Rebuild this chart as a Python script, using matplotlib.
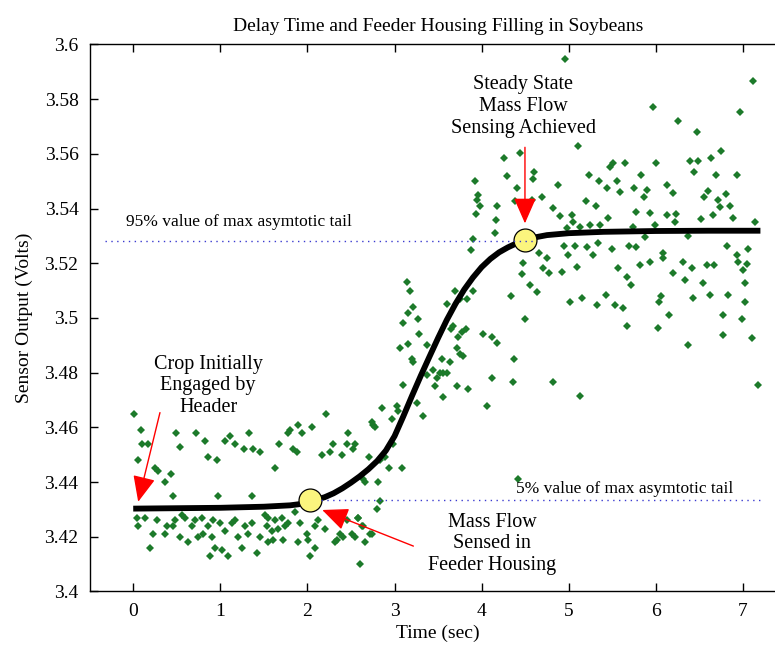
import matplotlib
matplotlib.use("Agg")
import matplotlib.pyplot as plt

plt.rcParams['font.family'] = ['Liberation Serif', 'DejaVu Serif']

# ---------------- data ----------------
title = "Delay Time and Feeder Housing Filling in Soybeans"
xlabel = "Time (sec)"
ylabel = "Sensor Output (Volts)"
x_ticks = [0, 1, 2, 3, 4, 5, 6, 7]
y_ticks = [3.4, 3.42, 3.44, 3.46, 3.48, 3.5, 3.52, 3.54, 3.56, 3.58, 3.6]
y_ticklabels = ["3.4", "3.42", "3.44", "3.46", "3.48", "3.5", "3.52", "3.54", "3.56", "3.58", "3.6"]

# measured sensor points (time s, volts)
pts_early = [
    (0.011, 3.465), (0.084, 3.459), (0.096, 3.454), (0.172, 3.454), (0.057, 3.448), (0.249, 3.445),
    (0.287, 3.444), (0.364, 3.440), (0.432, 3.443), (0.452, 3.435), (0.486, 3.458), (0.536, 3.453),
    (0.719, 3.458), (0.823, 3.455), (0.861, 3.449), (0.957, 3.448), (0.968, 3.435), (1.052, 3.455),
    (1.11, 3.457), (1.167, 3.454), (1.274, 3.452), (1.328, 3.458), (1.37, 3.452), (1.454, 3.451),
    (1.359, 3.435),
    (0.038, 3.427), (0.05, 3.424), (0.134, 3.427), (0.191, 3.416), (0.23, 3.421), (0.268, 3.426),
    (0.364, 3.421), (0.383, 3.424), (0.459, 3.424), (0.478, 3.426), (0.536, 3.420), (0.555, 3.428),
    (0.593, 3.427), (0.631, 3.418), (0.67, 3.424), (0.708, 3.426), (0.746, 3.420), (0.785, 3.427),
    (0.804, 3.421), (0.861, 3.424), (0.899, 3.420), (0.918, 3.426), (0.88, 3.413), (0.938, 3.416),
    (0.995, 3.425), (1.014, 3.415), (1.052, 3.422), (1.091, 3.413), (1.129, 3.425), (1.167, 3.426),
    (1.206, 3.420), (1.244, 3.416), (1.282, 3.424), (1.32, 3.421), (1.359, 3.425), (1.416, 3.414),
    (1.454, 3.420), (1.512, 3.428), (1.531, 3.424),
]
pts_mid = [
    (2.212, 3.465), (2.859, 3.467), (3.024, 3.468), (3.035, 3.466), (3.253, 3.469), (3.33, 3.464),
    (2.966, 3.463), (2.737, 3.462), (2.775, 3.460), (2.756, 3.461), (1.799, 3.459), (1.887, 3.461),
    (1.772, 3.458), (1.933, 3.458), (2.048, 3.460), (1.673, 3.454), (1.837, 3.452), (1.876, 3.451),
    (2.17, 3.450), (2.258, 3.451), (2.296, 3.454), (2.392, 3.450), (2.469, 3.458), (2.449, 3.454),
    (2.545, 3.454), (2.526, 3.452), (2.706, 3.449), (2.832, 3.448), (2.89, 3.449), (2.936, 3.445),
    (3.081, 3.445), (1.627, 3.445), (2.641, 3.441), (2.66, 3.440), (2.813, 3.440), (2.985, 3.454),
    (2.832, 3.433), (2.794, 3.430), (2.583, 3.427), (2.633, 3.424),
    (1.551, 3.427), (1.627, 3.426), (1.703, 3.427), (1.589, 3.422), (1.665, 3.423), (1.742, 3.424),
    (1.78, 3.425), (1.857, 3.429), (1.914, 3.425), (1.608, 3.419), (1.722, 3.419), (1.551, 3.418),
    (1.895, 3.418), (1.991, 3.421), (2.01, 3.419), (2.086, 3.424), (2.124, 3.426), (2.201, 3.423),
    (2.086, 3.416), (2.029, 3.413), (2.316, 3.418), (2.335, 3.419), (2.373, 3.421), (2.411, 3.420),
    (2.449, 3.426), (2.507, 3.421), (2.545, 3.420), (2.583, 3.427), (2.603, 3.410), (2.66, 3.418),
    (2.718, 3.421), (2.622, 3.424), (2.737, 3.421),
]
pts_rise = [
    (3.924, 3.550), (3.962, 3.545), (3.943, 3.543), (3.981, 3.541), (3.935, 3.538), (4.181, 3.541),
    (4.165, 3.536), (4.154, 3.531), (3.897, 3.529), (3.878, 3.525), (3.139, 3.513), (3.177, 3.510),
    (3.215, 3.504), (3.158, 3.502), (3.1, 3.498), (3.273, 3.4995), (3.284, 3.494), (3.158, 3.4905),
    (3.062, 3.489), (3.196, 3.485), (3.215, 3.484), (3.368, 3.490), (3.445, 3.481), (3.483, 3.478),
    (3.521, 3.480), (3.56, 3.480), (3.606, 3.480), (3.54, 3.485), (3.636, 3.484), (3.713, 3.489),
    (3.751, 3.487), (3.789, 3.486), (3.732, 3.493), (3.77, 3.495), (3.82, 3.496), (3.674, 3.497),
    (3.644, 3.496), (3.606, 3.505), (3.693, 3.510), (3.751, 3.507), (3.828, 3.507), (3.905, 3.510),
    (4.02, 3.494), (4.115, 3.493), (4.181, 3.491), (3.1, 3.4755), (3.464, 3.475), (3.368, 3.479),
    (3.713, 3.475), (3.847, 3.474), (4.115, 3.478), (3.56, 3.471), (4.065, 3.4678), (4.42, 3.441),
]
pts_late = [
    (4.333, 3.508), (4.631, 3.5096), (4.497, 3.4995), (4.371, 3.4849), (4.356, 3.4765), (4.815, 3.4765),
    (5.128, 3.4715), (5.014, 3.506), (5.148, 3.5072), (5.32, 3.5048), (5.427, 3.5084), (5.53, 3.5048),
    (5.618, 3.5035), (5.664, 3.4971), (6.028, 3.4962), (6.154, 3.5011), (6.039, 3.506), (6.054, 3.508),
    (6.372, 3.4901), (6.832, 3.5084), (6.774, 3.5011), (6.767, 3.4938), (6.985, 3.4995), (7.023, 3.506),
    (7.1, 3.4926), (7.169, 3.4755), (6.621, 3.5084), (6.422, 3.5072),
    (5.97, 3.577), (6.966, 3.5754), (6.25, 3.5721), (6.468, 3.5681), (5.11, 3.5629), (4.256, 3.5586),
    (4.44, 3.5602), (4.287, 3.5519), (4.6, 3.5535), (4.593, 3.5507), (4.409, 3.5474), (4.574, 3.5431),
    (4.688, 3.5441), (4.382, 3.5428), (4.88, 3.5486), (5.236, 3.5523), (5.351, 3.5502), (5.443, 3.5474),
    (5.473, 3.5553), (5.504, 3.5566), (5.55, 3.5502), (5.588, 3.5462), (5.645, 3.5566), (5.752, 3.5477),
    (5.825, 3.5523), (5.894, 3.5468), (5.864, 3.5441), (5.997, 3.5566), (6.124, 3.5486), (6.193, 3.5456),
    (6.392, 3.5575), (6.487, 3.5575), (6.438, 3.5535), (6.629, 3.5586), (6.744, 3.5611), (6.69, 3.5523),
    (6.602, 3.5466), (6.553, 3.5441), (6.927, 3.5523), (6.805, 3.5452), (6.717, 3.5431), (6.736, 3.5407),
    (6.85, 3.541), (5.198, 3.5429), (5.313, 3.541), (4.823, 3.5401), (4.9, 3.5373), (5.033, 3.5377),
    (5.052, 3.5352), (4.983, 3.5328), (5.129, 3.5334), (5.244, 3.534), (5.358, 3.534), (5.454, 3.5364),
    (5.772, 3.5389), (5.932, 3.5385), (5.99, 3.534), (6.124, 3.5377), (6.231, 3.538), (6.219, 3.5352),
    (6.372, 3.53), (6.514, 3.5361), (6.652, 3.5377), (6.882, 3.5364), (7.138, 3.5352), (5.875, 3.5297),
    (5.741, 3.5334),
    (4.662, 3.5239), (4.746, 3.5218), (4.478, 3.520), (4.459, 3.516), (4.554, 3.5121), (4.708, 3.5181),
    (4.777, 3.5166), (4.918, 3.5169), (4.945, 3.5263), (4.995, 3.523), (5.071, 3.5263), (5.091, 3.5188),
    (5.213, 3.5258), (5.275, 3.523), (5.492, 3.5251), (5.569, 3.5181), (5.665, 3.5151), (5.695, 3.5263),
    (5.772, 3.5258), (5.818, 3.5194), (5.932, 3.5206), (6.085, 3.5239), (6.085, 3.5218), (6.193, 3.5166),
    (6.307, 3.5206), (6.411, 3.5181), (6.334, 3.5139), (6.545, 3.5129), (6.583, 3.5194), (6.667, 3.5194),
    (6.82, 3.5263), (6.927, 3.523), (6.946, 3.5206), (7.042, 3.5197), (7.061, 3.5251), (7.004, 3.5175),
    (7.023, 3.5129), (5.711, 3.5121), (5.339, 3.5273),
    (7.111, 3.5868), (4.955, 3.5946),
]

# fitted response curve
fit_t = [0, 1.0, 1.5, 1.8, 1.9, 2.0, 2.1, 2.2, 2.3, 2.4, 2.5, 2.6, 2.7, 2.8, 2.9, 3.0, 3.1,
         3.2, 3.3, 3.4, 3.5, 3.6, 3.7, 3.8, 3.9, 4.0, 4.1, 4.2, 4.3, 4.4, 4.5, 4.6, 4.75,
         5.0, 5.4, 6.0, 6.6, 7.2]
fit_v = [3.4303, 3.4306, 3.4310, 3.4315, 3.4319, 3.4326, 3.4335, 3.4345, 3.4359, 3.4377,
         3.4398, 3.4421, 3.4447, 3.4477, 3.4515, 3.4568, 3.4640, 3.4715, 3.4788, 3.4858,
         3.4927, 3.4993, 3.5052, 3.5104, 3.5148, 3.5186, 3.5216, 3.5240, 3.5258, 3.5273,
         3.5285, 3.5294, 3.5303, 3.5310, 3.5315, 3.5318, 3.5319, 3.5319]

# key points (5% and 95% of asymptotic tail)
key_t = [2.03, 4.50]
key_v = [3.4334, 3.5285]
level_95 = 3.5283
level_5 = 3.4335

# ---------------- figure ----------------
fig = plt.figure(figsize=(7.75, 6.52), dpi=100)
ax = fig.add_axes([0.1157, 0.0928, 0.8992, 0.839])
ax.set_xlim(-0.5, 7.5)
ax.set_ylim(3.4, 3.6)

pts = pts_early + pts_mid + pts_rise + pts_late
ax.plot([p[0] for p in pts], [p[1] for p in pts], linestyle='none', marker='D',
        markersize=3.8, color='#1c7a2a', markeredgewidth=0, zorder=2)

ax.plot(fit_t, fit_v, color='black', lw=4.2, solid_capstyle='butt',
        solid_joinstyle='round', zorder=3)

ax.plot(key_t, key_v, linestyle='none', marker='o', markersize=16.5,
        markerfacecolor='#fbf57e', markeredgecolor='black', markeredgewidth=0.9, zorder=4)

ax.plot([-0.32, 4.6], [level_95, level_95], color='#3a3ad0', lw=1.0,
        linestyle=(0, (1, 3.2)), zorder=5)
ax.plot([2.15, 7.22], [level_5, level_5], color='#3a3ad0', lw=1.0,
        linestyle=(0, (1, 3.2)), zorder=5)

fs = 14.5
ax.text(-0.084, 3.5352, "95% value of max asymtotic tail", fontsize=12.5, ha='left', va='center')
ax.text(4.394, 3.4374, "5% value of max asymtotic tail", fontsize=12.5, ha='left', va='center')

ax.text(4.48, 3.5773, "Steady State\nMass Flow\nSensing Achieved", fontsize=fs,
        ha='center', va='center', multialignment='center', linespacing=1.2)
ax.text(0.861, 3.4752, "Crop Initially\nEngaged by\nHeader", fontsize=fs,
        ha='center', va='center', multialignment='center', linespacing=1.2)
ax.text(4.118, 3.4174, "Mass Flow\nSensed in\nFeeder Housing", fontsize=fs,
        ha='center', va='center', multialignment='center', linespacing=1.2)

arrow_style = dict(arrowstyle='-|>,head_length=0.8,head_width=0.35', mutation_scale=20,
                   color='red', lw=1.0, shrinkA=0, shrinkB=0)
ax.annotate('', xy=(4.497, 3.5346), xytext=(4.497, 3.5624), arrowprops=arrow_style, zorder=6)
ax.annotate('', xy=(0.057, 3.4328), xytext=(0.307, 3.4654), arrowprops=arrow_style, zorder=6)
ax.annotate('', xy=(2.17, 3.4298), xytext=(3.216, 3.4166), arrowprops=arrow_style, zorder=6)

ax.set_xticks(x_ticks)
ax.set_yticks(y_ticks)
ax.set_yticklabels(y_ticklabels)
ax.tick_params(direction='in', length=6, width=1, top=True, right=True,
               labelsize=14, pad=8)
for s in ax.spines.values():
    s.set_linewidth(1.0)

ax.set_title(title, fontsize=14, pad=10)
ax.set_xlabel(xlabel, fontsize=14, labelpad=4)
ax.set_ylabel(ylabel, fontsize=14, labelpad=8)

fig.savefig("out.png", dpi=100)
